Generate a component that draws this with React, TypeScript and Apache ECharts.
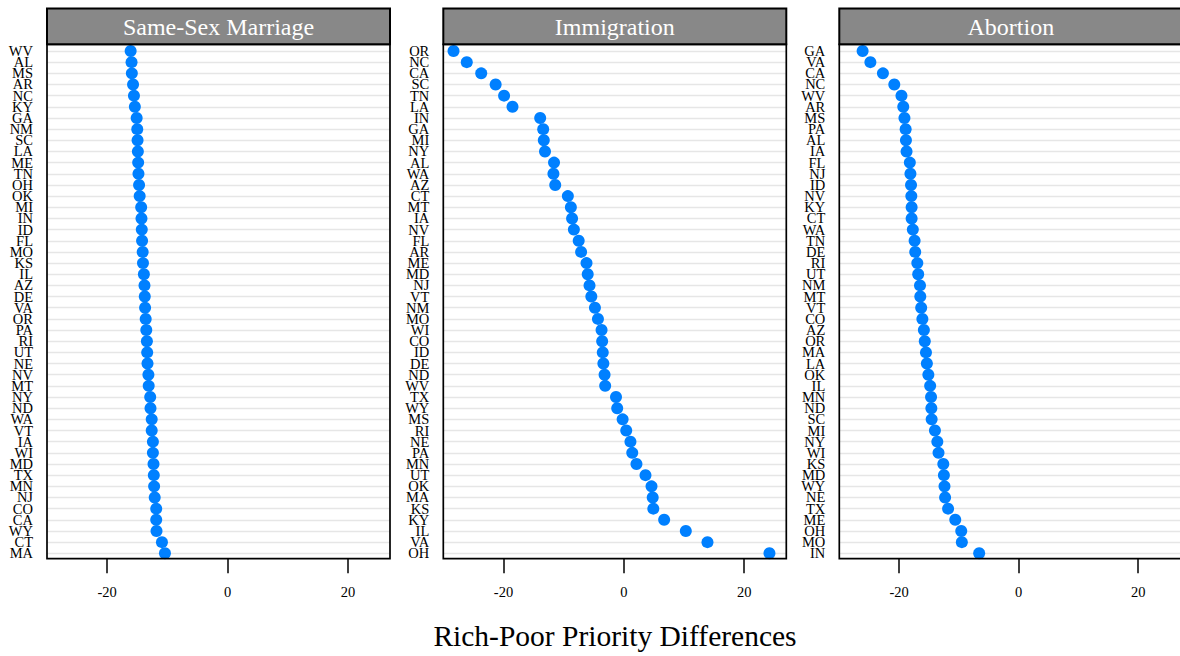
import React, { useEffect, useRef } from "react";
import * as echarts from "echarts";

const panelTitles = ["Same-Sex Marriage", "Immigration", "Abortion"];
const xTicks = [-20, 0, 20];
const axisTitle = "Rich-Poor Priority Differences";

const ssmStates = ["WV","AL","MS","AR","NC","KY","GA","NM","SC","LA","ME","TN","OH","OK","MI","IN","ID","FL","MO","KS","IL","AZ","DE","VA","OR","PA","RI","UT","NE","NV","MT","NY","ND","WA","VT","IA","WI","MD","TX","MN","NJ","CO","CA","WY","CT","MA"];
const ssmValues = [-16.1,-15.95,-15.9,-15.7,-15.55,-15.4,-15.1,-15.0,-14.95,-14.9,-14.85,-14.8,-14.7,-14.6,-14.35,-14.3,-14.25,-14.2,-14.1,-14.05,-13.9,-13.8,-13.75,-13.7,-13.6,-13.5,-13.4,-13.35,-13.3,-13.15,-13.1,-12.85,-12.8,-12.6,-12.6,-12.4,-12.4,-12.3,-12.25,-12.2,-12.1,-11.85,-11.85,-11.8,-10.9,-10.4];

const immStates = ["OR","NC","CA","SC","TN","LA","IN","GA","MI","NY","AL","WA","AZ","CT","MT","IA","NV","FL","AR","ME","MD","NJ","VT","NM","MO","WI","CO","ID","DE","ND","WV","TX","WY","MS","RI","NE","PA","MN","UT","OK","MA","KS","KY","IL","VA","OH"];
const immValues = [-28.3,-26.1,-23.7,-21.3,-19.9,-18.5,-13.9,-13.4,-13.3,-13.1,-11.6,-11.7,-11.4,-9.3,-8.8,-8.6,-8.3,-7.5,-7.1,-6.2,-6.0,-5.7,-5.4,-4.8,-4.3,-3.7,-3.6,-3.5,-3.4,-3.2,-3.1,-1.3,-1.1,-0.2,0.4,1.1,1.4,2.1,3.6,4.6,4.8,4.9,6.7,10.3,13.9,24.2];

const abStates = ["GA","VA","CA","NC","WV","AR","MS","PA","AL","IA","FL","NJ","ID","NV","KY","CT","WA","TN","DE","RI","UT","NM","MT","VT","CO","AZ","OR","MA","LA","OK","IL","MN","ND","SC","MI","NY","WI","KS","MD","WY","NE","TX","ME","OH","MO","IN"];
const abValues = [-26.1,-24.8,-22.7,-20.8,-19.6,-19.3,-19.1,-18.9,-18.85,-18.75,-18.2,-18.1,-18.0,-17.95,-17.9,-17.9,-17.7,-17.4,-17.3,-16.95,-16.8,-16.5,-16.45,-16.3,-16.1,-15.85,-15.7,-15.5,-15.35,-15.1,-14.8,-14.65,-14.6,-14.55,-14.0,-13.6,-13.4,-12.6,-12.5,-12.4,-12.3,-11.8,-10.6,-9.6,-9.5,-6.6];

const panelStates = [ssmStates, immStates, abStates];
const panelValues = [ssmValues, immValues, abValues];

const FONT = "'Liberation Serif', 'Times New Roman', serif";

export default function App() {
  const ref = useRef<HTMLDivElement>(null);

  useEffect(() => {
    if (!ref.current) return;
    const chart = echarts.init(ref.current, null, { renderer: "svg" });

    const boxLefts = [47, 443.3, 839.3];
    const boxW = 343;
    const boxTop = 44.3;
    const boxBottom = 558.7;
    const stripTop = 8.5;
    const rowTop = 51.0;
    const rowBottom = 553.3;

    const grids: any[] = [];
    const xAxes: any[] = [];
    const yAxes: any[] = [];
    const series: any[] = [];
    const graphics: any[] = [];

    for (let p = 0; p < 3; p++) {
      grids.push({
        left: boxLefts[p],
        width: boxW,
        top: rowTop,
        height: rowBottom - rowTop,
        containLabel: false,
      });
      xAxes.push({
        type: "value",
        gridIndex: p,
        min: -30,
        max: 27,
        position: "bottom",
        offset: boxBottom - rowBottom,
        axisLine: { show: false },
        splitLine: { show: false },
        axisTick: {
          show: true,
          length: 14.5,
          customValues: xTicks,
          lineStyle: { color: "#000", width: 1.5 },
        },
        axisLabel: {
          customValues: xTicks,
          fontFamily: FONT,
          fontSize: 14.5,
          color: "#000",
          margin: 26,
        },
      });
      yAxes.push({
        type: "category",
        gridIndex: p,
        data: panelStates[p],
        inverse: true,
        boundaryGap: false,
        axisLine: { show: false },
        axisTick: { show: false },
        axisLabel: {
          interval: 0,
          fontFamily: FONT,
          fontSize: 14.5,
          lineHeight: 11,
          color: "#000",
          margin: 14,
        },
        splitLine: {
          show: true,
          interval: 0,
          lineStyle: { color: "#e6e6e6", width: 1.4 },
        },
      });
      series.push({
        type: "scatter",
        xAxisIndex: p,
        yAxisIndex: p,
        clip: false,
        symbol: "circle",
        symbolSize: 12,
        itemStyle: { color: "#0080ff", opacity: 1 },
        data: panelStates[p].map((s, i) => [panelValues[p][i], s]),
        z: 5,
      });
      graphics.push({
        type: "rect",
        shape: { x: boxLefts[p], y: boxTop, width: boxW, height: boxBottom - boxTop },
        style: { fill: "none", stroke: "#000", lineWidth: 1.7 },
        z: 100,
      });
      graphics.push({
        type: "rect",
        shape: { x: boxLefts[p], y: stripTop, width: boxW, height: boxTop - stripTop },
        style: { fill: "#888888", stroke: "#000", lineWidth: 2 },
        z: 100,
      });
      graphics.push({
        type: "text",
        x: boxLefts[p] + boxW / 2,
        y: (stripTop + boxTop) / 2 + 1,
        style: {
          text: panelTitles[p],
          fill: "#ffffff",
          font: `24px ${FONT}`,
          textAlign: "center",
          textVerticalAlign: "middle",
        },
        z: 101,
      });
    }

    graphics.push({
      type: "text",
      x: 615,
      y: 636,
      style: {
        text: axisTitle,
        fill: "#000",
        font: `29.5px ${FONT}`,
        textAlign: "center",
        textVerticalAlign: "middle",
      },
      z: 101,
    });

    chart.setOption({
      animation: false,
      backgroundColor: "#ffffff",
      grid: grids,
      xAxis: xAxes,
      yAxis: yAxes,
      series,
      graphic: graphics,
    });

    return () => chart.dispose();
  }, []);

  return (
    <div
      ref={ref}
      style={{ position: "fixed", left: 0, top: 0, width: 1180, height: 656, overflow: "hidden" }}
    />
  );
}
